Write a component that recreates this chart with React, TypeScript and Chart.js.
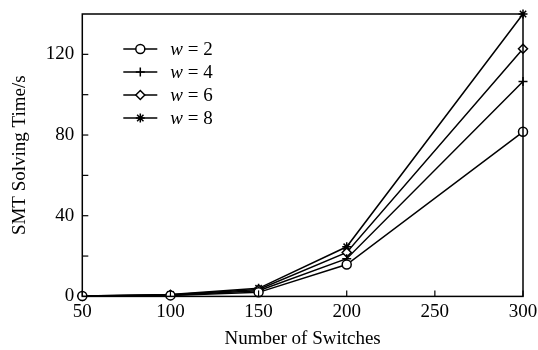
import React, { useEffect, useRef } from "react";
import { Chart, registerables } from "chart.js";
import { drawPoint } from "chart.js/helpers";

Chart.register(...registerables);

const switches = [50, 100, 150, 200, 250, 300];
const xValues = [50, 100, 150, 200, 300];
const w2 = [0.2, 0.5, 2.0, 15.8, 81.6];
const w4 = [0.2, 0.6, 2.8, 18.7, 106.5];
const w6 = [0.2, 0.8, 3.4, 21.8, 122.8];
const w8 = [0.2, 1.0, 4.0, 24.6, 140];
const seriesLabels = ["2", "4", "6", "8"];
const pointStyles = ["circle", "cross", "rectRot", "star"];
const yTicks = [0, 20, 40, 60, 80, 100, 120];
const yLabelled = [0, 40, 80, 120];

const FONT = "'Liberation Serif', 'Times New Roman', serif";

const framePlugin = {
  id: "frameTicks",
  afterDatasetsDraw(chart: any) {
    const { ctx, chartArea } = chart;
    const xs = chart.scales.x;
    const ys = chart.scales.y;
    ctx.save();
    ctx.strokeStyle = "#000";
    ctx.lineWidth = 1.5;
    ctx.strokeRect(chartArea.left, chartArea.top, chartArea.right - chartArea.left, chartArea.bottom - chartArea.top);
    ctx.lineWidth = 1.2;
    for (const v of switches) {
      const px = xs.getPixelForValue(v);
      ctx.beginPath();
      ctx.moveTo(px, chartArea.bottom);
      ctx.lineTo(px, chartArea.bottom - 6);
      ctx.stroke();
    }
    for (const v of yTicks) {
      const py = ys.getPixelForValue(v);
      ctx.beginPath();
      ctx.moveTo(chartArea.left, py);
      ctx.lineTo(chartArea.left + 6, py);
      ctx.stroke();
    }
    // legend
    const lx = chartArea.left + 41;
    const ly = chartArea.top + 35;
    chart.data.datasets.forEach((ds: any, i: number) => {
      const y = ly + i * 23;
      ctx.lineWidth = 1.5;
      ctx.strokeStyle = "#000";
      ctx.fillStyle = "#fff";
      ctx.beginPath();
      ctx.moveTo(lx, y);
      ctx.lineTo(lx + 34, y);
      ctx.stroke();
      drawPoint(ctx, {
        pointStyle: ds.pointStyle,
        radius: 4.5,
        rotation: 0,
        borderWidth: 1.5,
      } as any, lx + 17, y);
      ctx.fillStyle = "#000";
      ctx.textBaseline = "middle";
      ctx.textAlign = "left";
      ctx.font = "italic 19px " + FONT;
      ctx.fillText("w", lx + 47, y + 1);
      const ww = ctx.measureText("w").width;
      ctx.font = "19px " + FONT;
      ctx.fillText(" = " + seriesLabels[i], lx + 47 + ww, y + 1);
    });
    ctx.restore();
  },
};

export default function App() {
  const ref = useRef<HTMLCanvasElement>(null);
  useEffect(() => {
    document.body.style.margin = "0";
    const all = [w2, w4, w6, w8];
    const chart = new Chart(ref.current!, {
      type: "line",
      data: {
        datasets: all.map((vals, i) => ({
          label: "w = " + seriesLabels[i],
          data: xValues.map((x, j) => ({ x, y: vals[j] })),
          borderColor: "#000",
          backgroundColor: "#fff",
          pointBorderColor: "#000",
          pointBackgroundColor: "#fff",
          borderWidth: 1.5,
          pointStyle: pointStyles[i] as any,
          pointRadius: 4.5,
          pointBorderWidth: 1.5,
          clip: false as any,
          tension: 0,
        })),
      },
      options: {
        animation: false,
        responsive: false,
        layout: { padding: { top: 14, right: 15, left: 9, bottom: 0 } },
        plugins: { legend: { display: false }, tooltip: { enabled: false } },
        scales: {
          x: {
            type: "linear",
            min: 50,
            max: 300,
            grid: { display: false, drawTicks: false },
            border: { display: false },
            afterFit(scale: any) {
              scale.paddingRight = 0;
              scale.paddingLeft = 0;
            },
            ticks: {
              stepSize: 50,
              color: "#000",
              padding: 4,
              font: { family: FONT, size: 19 },
            },
            title: {
              display: true,
              text: "Number of Switches",
              color: "#000",
              font: { family: FONT, size: 19 },
              padding: { top: 0, bottom: 0 },
            },
          },
          y: {
            min: 0,
            max: 140,
            grid: { display: false, drawTicks: false },
            border: { display: false },
            afterBuildTicks(scale: any) {
              scale.ticks = yLabelled.map((v) => ({ value: v }));
            },
            afterFit(scale: any) {
              scale.paddingTop = 0;
              scale.paddingBottom = 0;
            },
            ticks: {
              color: "#000",
              padding: 8,
              font: { family: FONT, size: 19 },
            },
            title: {
              display: true,
              text: "SMT Solving Time/s",
              color: "#000",
              font: { family: FONT, size: 19 },
              padding: { top: 0, bottom: 6 },
            },
          },
        },
      },
      plugins: [framePlugin],
    });
    return () => chart.destroy();
  }, []);
  return (
    <div style={{ width: 538, height: 350, background: "#fff" }}>
      <canvas ref={ref} width={538} height={350} />
    </div>
  );
}
